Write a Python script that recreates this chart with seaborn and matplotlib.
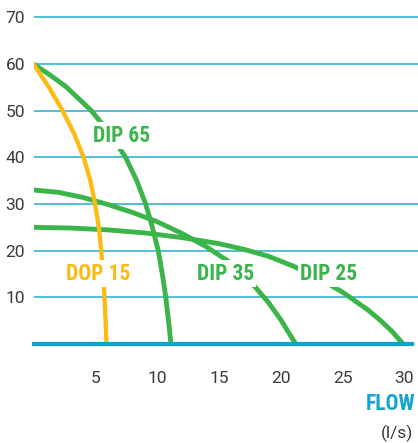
import matplotlib
matplotlib.use("Agg")
import matplotlib.pyplot as plt
import seaborn as sns
import pandas as pd

# pump curves (flow l/s, head m)
dop15_q = [0, 1.25, 2.35, 3.3, 4.05, 4.6, 4.98, 5.28, 5.48, 5.62, 5.74, 5.83, 5.9]
dop15_h = [60, 55, 50, 45, 40, 35, 30, 25, 20, 15, 10, 5, 0]

dip65_q = [0, 1.3, 2.6, 4.68, 6.2, 7.45, 8.35, 9.07, 9.62, 10.09, 10.42, 10.7, 10.92, 11.12]
dip65_h = [60, 57.7, 55.2, 50, 45, 40, 35, 30, 25, 20, 15, 10, 5, 0]

dip35_q = [0, 2, 4, 6, 8, 10, 12, 14, 16, 17, 18, 19, 20, 21, 21.2]
dip35_h = [33, 32.5, 31.4, 29.9, 28.2, 26.2, 23.7, 20.8, 17.3, 14.8, 12.0, 8.9, 5.2, 0.9, 0]

dip25_q = [0, 3, 6, 9, 12, 15, 17, 19, 21, 23, 25, 27, 28, 29, 29.9]
dip25_h = [25, 24.85, 24.45, 23.8, 22.8, 21.5, 20.3, 18.8, 16.7, 14.2, 11.1, 7.4, 5.2, 2.7, 0]

x_ticks = [5, 10, 15, 20, 25, 30]
y_ticks = [10, 20, 30, 40, 50, 60, 70]

GREEN = "#3bb54a"
YELLOW = "#fdbb12"
GRID = "#45b8d8"
AXIS = "#0aa5cc"
TEXT = "#3a3a3a"

sns.set_style("white")
plt.rcParams["font.family"] = ["Roboto", "DejaVu Sans"]
label_font = ["Roboto Condensed", "Liberation Sans Narrow", "Roboto"]

fig = plt.figure(figsize=(4.18, 4.43), dpi=100)
ax = fig.add_axes([33.5 / 418, 99 / 443, 1 - 33.5 / 418, 340.7 / 443])

curves = [
    ("DIP 25", dip25_q, dip25_h, GREEN, 3.5),
    ("DIP 35", dip35_q, dip35_h, GREEN, 3.5),
    ("DIP 65", dip65_q, dip65_h, GREEN, 3.5),
    ("DOP 15", dop15_q, dop15_h, YELLOW, 3.1),
]
for name, q, h, col, lw in curves:
    df = pd.DataFrame({"flow": q, "head": h})
    sns.lineplot(data=df, x="flow", y="head", sort=False, color=col,
                 linewidth=lw, ax=ax, zorder=3)

labels = [
    ("DIP 65", 7.1, 44.6, GREEN),
    ("DOP 15", 5.2, 15.1, YELLOW),
    ("DIP 35", 15.5, 15.1, GREEN),
    ("DIP 25", 23.9, 15.1, GREEN),
]
for txt, x, y, col in labels:
    ax.text(x, y, txt, color=col, fontsize=15.5, fontweight="bold",
            family=label_font, ha="center", va="center", zorder=5,
            bbox=dict(boxstyle="square,pad=0.12", fc="white", ec="none"))

ax.set_xlim(0, 31.1)
ax.set_ylim(0, 73)
ax.set_xticks(x_ticks)
ax.set_yticks(y_ticks)
ax.set_xlabel("")
ax.set_ylabel("")
ax.grid(axis="y", color=GRID, linewidth=1.3)
ax.grid(axis="x", visible=False)
ax.set_axisbelow(True)

for s in ["top", "right", "left"]:
    ax.spines[s].set_visible(False)
ax.spines["bottom"].set_color(AXIS)
ax.spines["bottom"].set_linewidth(3)
ax.spines["bottom"].set_bounds(0, 30.6)
ax.spines["bottom"].set_zorder(4)

ax.tick_params(axis="x", direction="out", length=9.5, width=1.3, color=GRID,
               pad=10, labelsize=12.5, labelcolor=TEXT)
ax.tick_params(axis="y", length=0, pad=6, labelsize=12.5, labelcolor=TEXT)

fig.text(0.993, 0.088, "FLOW", color="#12a5cf", fontsize=15.5,
         fontweight="bold", family=label_font, ha="right", va="center")
fig.text(0.988, 0.0226, "(l/s)", color=TEXT, fontsize=12.5,
         ha="right", va="center")

fig.savefig("out.png", dpi=100)
